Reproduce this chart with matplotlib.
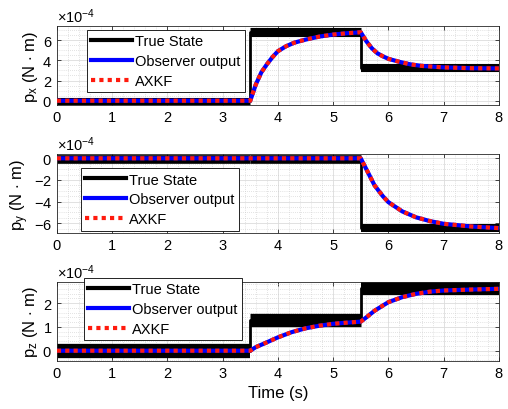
import numpy as np
import matplotlib
matplotlib.use("Agg")
import matplotlib.pyplot as plt
from matplotlib.ticker import MultipleLocator, ScalarFormatter

plt.rcParams['font.family'] = ['Liberation Sans', 'DejaVu Sans']
plt.rcParams['axes.unicode_minus'] = False
plt.rcParams['mathtext.fontset'] = 'custom'
plt.rcParams['mathtext.rm'] = 'Liberation Sans'
plt.rcParams['mathtext.it'] = 'Liberation Sans'

# true state: step segments (x1e-4) and noise half-widths
seg_start = [0, 3.5, 5.5]
seg_end = [3.5, 5.5, 8]
t_true = [0, 3.5, 3.5, 5.5, 5.5, 8]
px_level = [0, 6.85, 3.24]
px_noise = [0.35, 0.45, 0.4]
py_level = [-0.06, -0.06, -6.43]
py_noise = [0.4, 0.4, 0.37]
pz_level = [0, 1.27, 2.62]
pz_noise = [0.3, 0.28, 0.3]

# observer output
t_px = [0, 3.5, 3.6, 3.7, 3.8, 3.9, 4.0, 4.15, 4.3, 4.5, 4.75, 5.0, 5.25, 5.5,
        5.6, 5.7, 5.8, 5.9, 6.0, 6.2, 6.4, 6.6, 7.0, 7.5, 8.0]
px_obs = [0, 0, 1.6, 2.8, 3.6, 4.3, 4.9, 5.4, 5.75, 6.05, 6.35, 6.55, 6.68, 6.78,
          5.9, 5.2, 4.7, 4.4, 4.15, 3.85, 3.6, 3.45, 3.3, 3.22, 3.2]
t_py = [0, 5.5, 5.6, 5.75, 5.9, 6.0, 6.25, 6.5, 6.75, 7.0, 7.5, 8.0]
py_obs = [0, 0, -1.0, -2.5, -3.5, -4.05, -4.9, -5.45, -5.8, -6.05, -6.3, -6.45]
t_pz = [0, 3.5, 3.6, 3.75, 4.0, 4.25, 4.5, 4.75, 5.0, 5.25, 5.5,
        5.6, 5.75, 6.0, 6.25, 6.5, 6.75, 7.0, 7.5, 8.0]
pz_obs = [0, 0, 0.15, 0.3, 0.56, 0.78, 0.94, 1.05, 1.13, 1.18, 1.22,
          1.4, 1.68, 2.04, 2.25, 2.39, 2.48, 2.53, 2.57, 2.6]

panels = [
    dict(lab='x', t=t_px, obs=px_obs, lev=px_level, nz=px_noise, ylim=(-0.42, 7.4),
         yt=[0, 2, 4, 6], ymin=0.5, pos=[0.112, 0.7415, 0.870, 0.1927], leg=(0.068, 0.95)),
    dict(lab='y', t=t_py, obs=py_obs, lev=py_level, nz=py_noise, ylim=(-6.9, 0.4),
         yt=[-6, -4, -2, 0], ymin=0.5, pos=[0.112, 0.4293, 0.870, 0.1927], leg=(0.054, 0.82)),
    dict(lab='z', t=t_pz, obs=pz_obs, lev=pz_level, nz=pz_noise, ylim=(-0.42, 2.9),
         yt=[0, 1, 2], ymin=0.2, pos=[0.112, 0.1178, 0.870, 0.1927], leg=(0.061, 1.05)),
]

W, H, DPI = 5.08, 4.10, 100
fig = plt.figure(figsize=(W, H), dpi=DPI)
s = 1e-4
for p in panels:
    ax = fig.add_axes(p['pos'])
    y0, y1 = p['ylim']
    ax_h_pt = p['pos'][3] * H * 72
    # noisy band of the true state drawn as a thick black stroke
    for a, b, lv, nz in zip(seg_start, seg_end, p['lev'], p['nz']):
        band_pt = 2 * nz / (y1 - y0) * ax_h_pt
        ax.plot([a, b], [lv * s, lv * s], color='k', lw=band_pt,
                solid_capstyle='butt', zorder=2)
    tr = [p['lev'][0], p['lev'][0], p['lev'][1], p['lev'][1], p['lev'][2], p['lev'][2]]
    ax.plot(t_true, np.array(tr) * s, color='k', lw=2, label='True State', zorder=2)
    ax.plot(p['t'], np.array(p['obs']) * s, color=(0, 0, 1), lw=3,
            label='Observer output', zorder=3)
    ax.plot(p['t'], np.array(p['obs']) * s, color=(1, 0.1, 0.05), lw=3,
            linestyle=(0, (1, 1)), label='AXKF', zorder=4)
    ax.set_xlim(0, 8)
    ax.set_ylim(y0 * s, y1 * s)
    ax.set_xticks(range(9))
    ax.set_yticks(np.array(p['yt']) * s)
    ax.xaxis.set_minor_locator(MultipleLocator(0.2))
    ax.yaxis.set_minor_locator(MultipleLocator(p['ymin'] * s))
    fmt = ScalarFormatter(useMathText=True)
    fmt.set_powerlimits((-3, 3))
    ax.yaxis.set_major_formatter(fmt)
    ax.yaxis.get_offset_text().set_fontsize(10.5)
    ax.grid(which='major', color='#dcdcdc', lw=0.6)
    ax.grid(which='minor', color='#c8c8c8', lw=0.5, linestyle=(0, (1, 2)))
    ax.set_axisbelow(True)
    ax.tick_params(which='both', direction='in', labelsize=10.5, top=True, right=True)
    ax.tick_params(which='major', length=3, width=0.5)
    ax.tick_params(which='minor', length=0)
    for sp in ax.spines.values():
        sp.set_linewidth(0.6)
        sp.set_color('#262626')
    ax.set_ylabel('p$_\\mathregular{' + p['lab'] + '}$ (N $\\cdot$ m)', fontsize=12, labelpad=2)
    leg = ax.legend(loc='upper left', bbox_to_anchor=p['leg'], borderaxespad=0,
                    fontsize=10.5, fancybox=False, framealpha=1, edgecolor='k',
                    handlelength=2.8, borderpad=0.3, labelspacing=0.4, handletextpad=0.2)
    leg.get_frame().set_linewidth(0.6)
    leg.set_zorder(10)
    for ln in leg.get_lines():
        ln.set_linewidth(3)

ax.set_xlabel('Time (s)', fontsize=12)
fig.savefig('out.png', dpi=DPI)
